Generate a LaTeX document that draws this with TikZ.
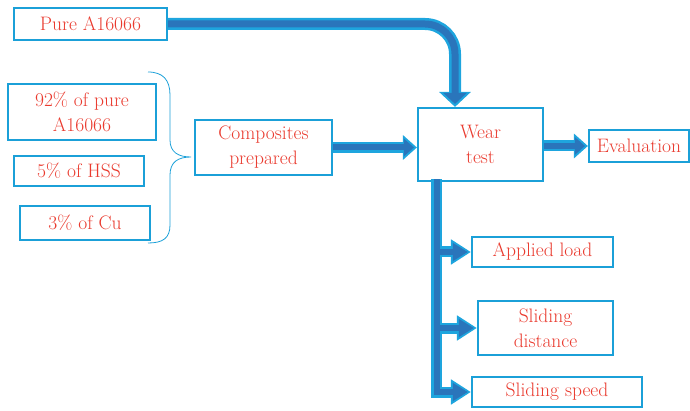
\documentclass[tikz,border=0pt]{standalone}
\usetikzlibrary{arrows.meta}
\definecolor{boxc}{RGB}{27,160,216}
\definecolor{txtc}{RGB}{234,58,46}
\definecolor{arrin}{RGB}{42,117,187}
\definecolor{arrout}{RGB}{30,165,222}
\begin{document}
\begin{tikzpicture}[x=1pt,y=-1pt,
  box/.style={draw=boxc, line width=2.2pt, fill=white, text=txtc,
    font=\rmfamily\fontsize{19.5}{25}\selectfont, align=center, inner sep=0pt},
  aout/.style={draw=arrout, line width=11pt, -{Triangle[length=14pt,width=24pt]}},
  ain/.style={draw=arrin, line width=6pt, shorten >=3pt, -{Triangle[length=10pt,width=17pt]}},
  bigout/.style={draw=arrout, line width=12pt, rounded corners=30pt, -{Triangle[length=15pt,width=31pt]}},
  bigin/.style={draw=arrin, line width=7pt, rounded corners=30pt, shorten >=3pt, -{Triangle[length=11pt,width=23pt]}},
  brout/.style={draw=arrout, line width=11pt, -{Triangle[length=20pt,width=24pt]}},
  brin/.style={draw=arrin, line width=6pt, shorten >=3pt, -{Triangle[length=15pt,width=17pt]}}]
\useasboundingbox (0,0) rectangle (690,411);

\node[box, minimum width=153, minimum height=32] (pure) at (90.5,24) {Pure A16066};
\node[box, minimum width=148, minimum height=56] (p92) at (82,112) {92\% of pure\\A16066};
\node[box, minimum width=130, minimum height=30] (hss) at (79,171) {5\% of HSS};
\node[box, minimum width=130, minimum height=34] (cu) at (85,223) {3\% of Cu};
\node[box, minimum width=137, minimum height=55] (comp) at (263.5,147.5) {Composites\\prepared};
\node[box, minimum width=125, minimum height=73] (wear) at (480.5,144.5) {Wear\\test};
\node[box, minimum width=100, minimum height=32] (eval) at (639,146) {Evaluation};
\node[box, minimum width=141, minimum height=30] (load) at (542.5,252) {Applied load};
\node[box, minimum width=135, minimum height=54] (dist) at (545.5,328) {Sliding\\distance};
\node[box, minimum width=170, minimum height=30] (spd) at (557,392) {Sliding speed};

\draw[boxc, line width=0.8pt] (148,72) .. controls (163,72) and (170,80) .. (170,95)
  -- (170,140) .. controls (170,152) and (178,157) .. (191,157)
  .. controls (178,157) and (170,162) .. (170,175)
  -- (170,225) .. controls (170,238) and (163,243) .. (148,243);

\coordinate (wtop) at ([xshift=-25.5pt]wear.north);
\coordinate (tr) at ([xshift=-44pt,yshift=3pt]wear.south);

% outlines
\draw[bigout] (pure.east) -| (wtop);
\draw[aout] (comp.east) -- (comp.east -| wear.west);
\draw[aout] (wear.east |- eval.west) -- (eval.west);
\draw[brout] (tr) |- (spd.west);
\draw[brout] (tr |- load.west) -- (load.west);
\draw[brout] (tr |- dist.west) -- (dist.west);
% inner
\draw[bigin] (pure.east) -| (wtop);
\draw[ain] (comp.east) -- (comp.east -| wear.west);
\draw[ain] (wear.east |- eval.west) -- (eval.west);
\draw[brin] (tr) |- (spd.west);
\draw[brin] (tr |- load.west) -- (load.west);
\draw[brin] (tr |- dist.west) -- (dist.west);
\end{tikzpicture}
\end{document}
